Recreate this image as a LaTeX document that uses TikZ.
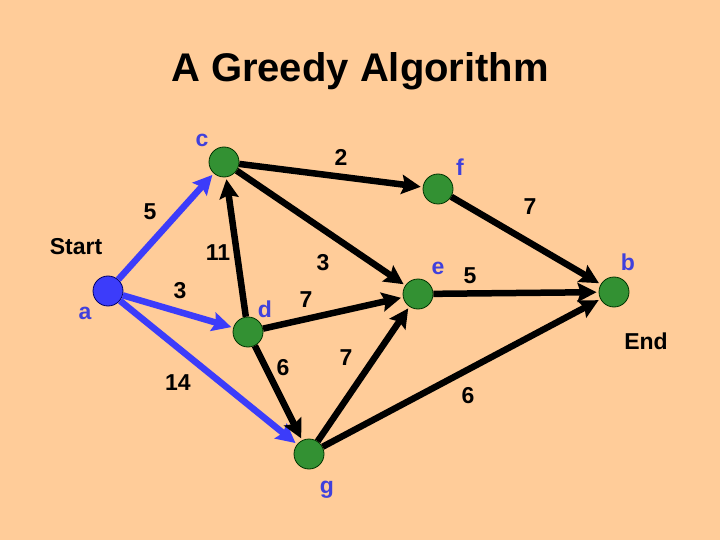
\documentclass[tikz,border=0pt]{standalone}
\usepackage{fontspec}
\setmainfont{Liberation Sans}
\usetikzlibrary{arrows.meta}
\definecolor{bg}{RGB}{255,204,153}
\definecolor{vgreen}{RGB}{51,145,51}
\definecolor{eblue}{RGB}{60,60,250}
\definecolor{tblue}{RGB}{64,64,220}
\begin{document}
\begin{tikzpicture}[x=1pt,y=-1pt,
  vtx/.style={circle,draw=black!80!green,line width=0.8pt,fill=vgreen,minimum size=30pt,inner sep=0pt},
  avtx/.style={vtx,fill=eblue,draw=black!60!blue},
  lbl/.style={font=\fontsize{23}{27}\selectfont\bfseries,inner sep=0pt},
  vlbl/.style={lbl,text=tblue},
  edge/.style={line width=6.5pt,-{Stealth[length=19pt,width=19pt,inset=3pt]},shorten >=2pt},
  bedge/.style={edge,draw=eblue,-{Stealth[length=19pt,width=19pt,inset=3pt,color=eblue]}}]
\fill[bg] (0,0) rectangle (720,540);
\useasboundingbox (0,0) rectangle (720,540);
\node[font=\fontsize{40}{48}\selectfont\bfseries,inner sep=0pt] (title) at (360,71) {A Greedy Algorithm};
% vertices
\node[avtx] (a) at (108,291) {};
\node[vtx] (c) at (224,162) {};
\node[vtx] (f) at (438,189) {};
\node[vtx] (d) at (248,332) {};
\node[vtx] (e) at (418,294) {};
\node[vtx] (b) at (614,292) {};
\node[vtx] (g) at (309,454) {};
% vertex labels
\node[vlbl] (la) at (85,313) {a};
\node[vlbl] (lc) at (202,140) {c};
\node[vlbl] (lf) at (460,167) {f};
\node[vlbl] (ld) at (265,309) {d};
\node[vlbl] (le) at (438,268) {e};
\node[vlbl] (lb) at (628,262) {b};
\node[vlbl] (lg) at (327,490) {g};
\node[lbl] (start) at (76,247) {Start};
\node[lbl] (end) at (646,341) {End};
% edges
\draw[bedge] (a) -- (c);
\draw[bedge] (a) -- (d);
\draw[bedge] (a) -- (g);
\draw[edge] (d) -- (c);
\draw[edge] (c) -- (f);
\draw[edge] (c) -- (e);
\draw[edge] (d) -- (e);
\draw[edge] (d) -- (g);
\draw[edge] (g) -- (e);
\draw[edge] (f) -- (b);
\draw[edge] (e) -- (b);
\draw[edge] (g) -- (b);
% edge labels
\node[lbl] (w1) at (150,212) {5};
\node[lbl] (w2) at (180,291) {3};
\node[lbl] (w3) at (178,383) {14};
\node[lbl] (w4) at (218,253) {11};
\node[lbl] (w5) at (341,157) {2};
\node[lbl] (w6) at (323,263) {3};
\node[lbl] (w7) at (306,300) {7};
\node[lbl] (w8) at (283,368) {6};
\node[lbl] (w9) at (346,358) {7};
\node[lbl] (w10) at (530,207) {7};
\node[lbl] (w11) at (470,276) {5};
\node[lbl] (w12) at (468,396) {6};
\end{tikzpicture}
\end{document}
